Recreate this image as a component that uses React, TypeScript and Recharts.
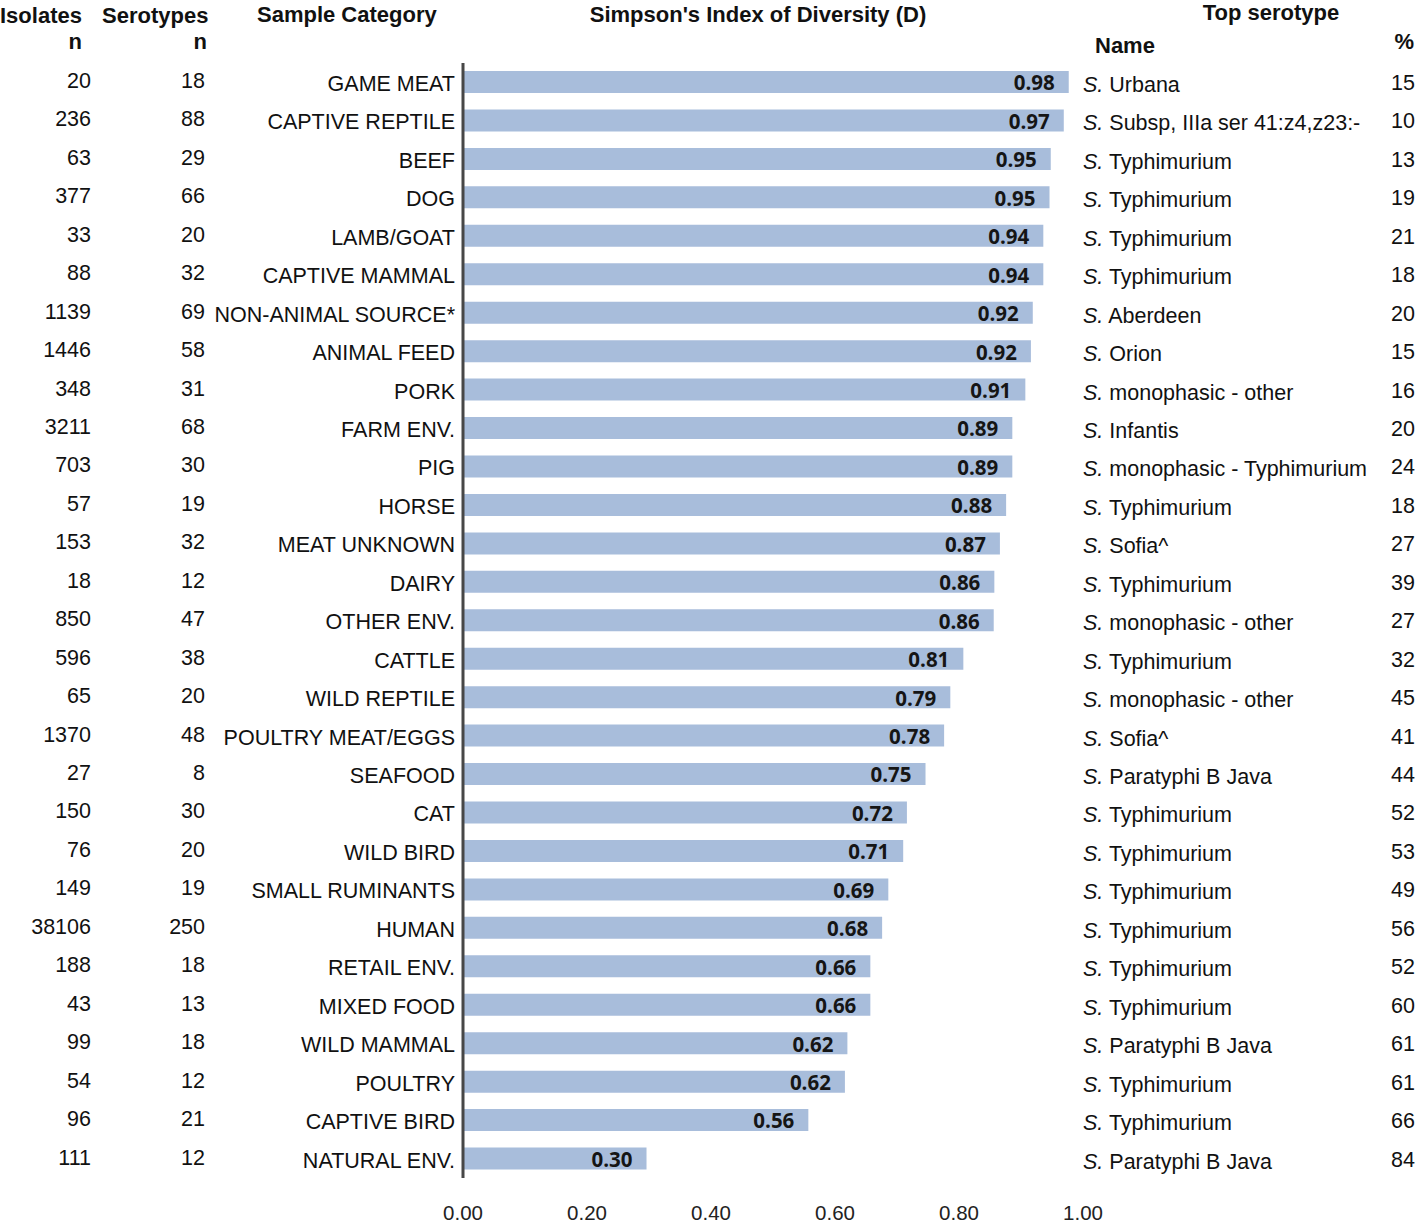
import React from 'react';
import { BarChart, Bar, XAxis, YAxis, LabelList } from 'recharts';

const categories = [
  'GAME MEAT', 'CAPTIVE REPTILE', 'BEEF', 'DOG', 'LAMB/GOAT', 'CAPTIVE MAMMAL',
  'NON-ANIMAL SOURCE*', 'ANIMAL FEED', 'PORK', 'FARM ENV.', 'PIG', 'HORSE',
  'MEAT UNKNOWN', 'DAIRY', 'OTHER ENV.', 'CATTLE', 'WILD REPTILE', 'POULTRY MEAT/EGGS',
  'SEAFOOD', 'CAT', 'WILD BIRD', 'SMALL RUMINANTS', 'HUMAN', 'RETAIL ENV.',
  'MIXED FOOD', 'WILD MAMMAL', 'POULTRY', 'CAPTIVE BIRD', 'NATURAL ENV.',
];
const isolates = [
  20, 236, 63, 377, 33, 88, 1139, 1446, 348, 3211, 703, 57, 153, 18, 850,
  596, 65, 1370, 27, 150, 76, 149, 38106, 188, 43, 99, 54, 96, 111,
];
const serotypes = [
  18, 88, 29, 66, 20, 32, 69, 58, 31, 68, 30, 19, 32, 12, 47,
  38, 20, 48, 8, 30, 20, 19, 250, 18, 13, 18, 12, 21, 12,
];
const simpsonD = [
  0.977, 0.969, 0.948, 0.946, 0.936, 0.936, 0.919, 0.916, 0.907, 0.886, 0.886, 0.876,
  0.866, 0.857, 0.856, 0.807, 0.786, 0.776, 0.746, 0.716, 0.71, 0.686, 0.676, 0.657,
  0.657, 0.62, 0.616, 0.557, 0.296,
];
const topSerotype = [
  'Urbana', 'Subsp, IIIa ser 41:z4,z23:-', 'Typhimurium', 'Typhimurium', 'Typhimurium',
  'Typhimurium', 'Aberdeen', 'Orion', 'monophasic - other', 'Infantis',
  'monophasic - Typhimurium', 'Typhimurium', 'Sofia^', 'Typhimurium', 'monophasic - other',
  'Typhimurium', 'monophasic - other', 'Sofia^', 'Paratyphi B Java', 'Typhimurium',
  'Typhimurium', 'Typhimurium', 'Typhimurium', 'Typhimurium', 'Typhimurium',
  'Paratyphi B Java', 'Typhimurium', 'Typhimurium', 'Paratyphi B Java',
];
const topPercent = [
  15, 10, 13, 19, 21, 18, 20, 15, 16, 20, 24, 18, 27, 39, 27,
  32, 45, 41, 44, 52, 53, 49, 56, 52, 60, 61, 61, 66, 84,
];
const xTicks = [0, 0.2, 0.4, 0.6, 0.8, 1.0];

const data = categories.map((category, i) => ({
  category,
  isolates: isolates[i],
  serotypes: serotypes[i],
  D: simpsonD[i],
  name: topSerotype[i],
  pct: topPercent[i],
}));

const FONT = '"Liberation Sans", Arial, Helvetica, sans-serif';
const TEXT = '#111';
const BAR_COLOR = '#a8bddb';
const W = 1418;
const H = 1223;

const LeftTick = (props: any) => {
  const { y, payload } = props;
  const row = data.find((d) => d.category === payload.value);
  if (!row) return null;
  return (
    <g fontFamily={FONT} fontSize={21.5} fill={TEXT}>
      <text x={91} y={y - 2} dy="0.36em" textAnchor="end">{row.isolates}</text>
      <text x={205} y={y - 2} dy="0.36em" textAnchor="end">{row.serotypes}</text>
      <text x={455} y={y + 1} dy="0.36em" textAnchor="end">{row.category}</text>
    </g>
  );
};

const RightTick = (props: any) => {
  const { y, payload } = props;
  const row = data.find((d) => d.category === payload.value);
  if (!row) return null;
  return (
    <g fontFamily={FONT} fontSize={21.5} fill={TEXT}>
      <text x={1083} y={y + 2} dy="0.36em" textAnchor="start">
        <tspan fontStyle="italic">S.</tspan>
        <tspan> {row.name}</tspan>
      </text>
      <text x={1415} y={y} dy="0.36em" textAnchor="end">{row.pct}</text>
    </g>
  );
};

const XTick = (props: any) => {
  const { x, payload } = props;
  return (
    <text x={x} y={1220} textAnchor="middle" fontFamily={FONT} fontSize={20.5} fill="#222">
      {Number(payload.value).toFixed(2)}
    </text>
  );
};

const ValueLabel = (props: any) => {
  const { x, y, width, height, value } = props;
  return (
    <text
      x={x + width - 14}
      y={y + height / 2 + 1}
      dy="0.36em"
      textAnchor="end"
      fontFamily='"Open Sans", "Liberation Sans", sans-serif'
      fontWeight={700}
      fontSize={20.5}
      fill="#151515"
    >
      {(Math.round(Number(value) * 100) / 100).toFixed(2)}
    </text>
  );
};

export default function App() {
  return (
    <div style={{ position: 'absolute', left: 0, top: 0, width: W, height: H, background: '#fff' }}>
      <BarChart
        width={W}
        height={H}
        data={data}
        layout="vertical"
        margin={{ top: 63, right: 0, left: 0, bottom: 0 }}
        barCategoryGap={0}
      >
        <XAxis
          type="number"
          domain={[0, 1]}
          ticks={xTicks}
          axisLine={false}
          tickLine={false}
          height={45}
          tick={<XTick />}
          interval={0}
        />
        <YAxis
          yAxisId="left"
          type="category"
          dataKey="category"
          width={463}
          interval={0}
          tickLine={false}
          axisLine={{ stroke: '#474747', strokeWidth: 3 }}
          tick={<LeftTick />}
        />
        <YAxis
          yAxisId="right"
          orientation="right"
          type="category"
          dataKey="category"
          width={335}
          interval={0}
          tickLine={false}
          axisLine={false}
          tick={<RightTick />}
        />
        <Bar yAxisId="left" dataKey="D" fill={BAR_COLOR} barSize={22} isAnimationActive={false}>
          <LabelList dataKey="D" content={<ValueLabel />} />
        </Bar>
      </BarChart>
      <svg
        width={W}
        height={H}
        style={{ position: 'absolute', left: 0, top: 0, pointerEvents: 'none' }}
      >
        <g fontFamily={FONT} fontWeight={700} fontSize={22} fill={TEXT}>
          <text x={0} y={23}>Isolates</text>
          <text x={82} y={49} textAnchor="end">n</text>
          <text x={102} y={23}>Serotypes</text>
          <text x={207} y={49} textAnchor="end">n</text>
          <text x={257} y={22}>Sample Category</text>
          <text x={758} y={22} textAnchor="middle">Simpson's Index of Diversity (D)</text>
          <text x={1271} y={20} textAnchor="middle">Top serotype</text>
          <text x={1095} y={53}>Name</text>
          <text x={1414} y={49} textAnchor="end">%</text>
        </g>
      </svg>
    </div>
  );
}
